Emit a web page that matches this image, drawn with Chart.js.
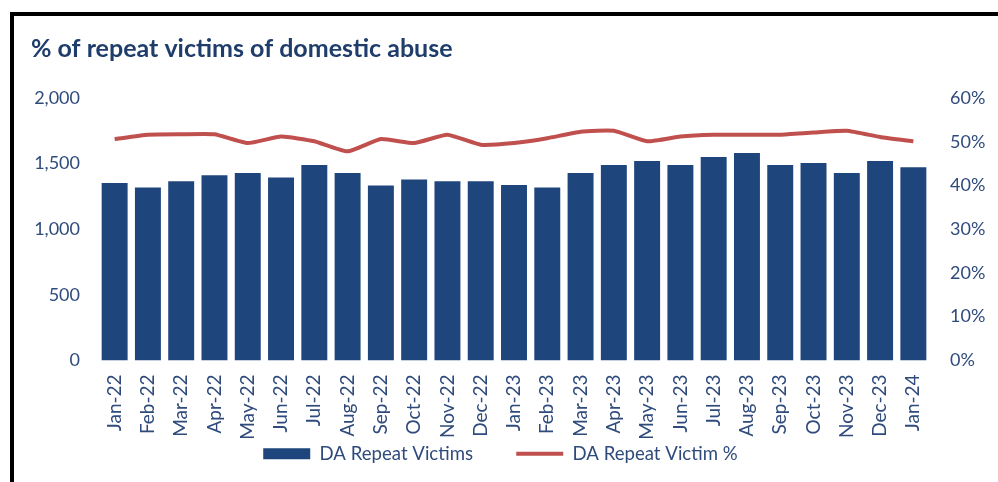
<!DOCTYPE html>
<html>
<head>
<meta charset="utf-8">
<script src="https://cdn.jsdelivr.net/npm/chart.js@4.4.1/dist/chart.umd.min.js"></script>
<style>
  html, body { margin: 0; padding: 0; background: #fff; }
  #marco {
    position: absolute; left: 10px; top: 12px; right: 0; bottom: 0;
    border-top: 4px solid #000; border-left: 4px solid #000;
  }
  #lienzo { position: absolute; left: 0; top: 0; }
</style>
</head>
<body>
<div id="marco"></div>
<canvas id="lienzo" width="998" height="482"></canvas>
<script>
// Datos
const meses = ['Jan-22', 'Feb-22', 'Mar-22', 'Apr-22', 'May-22', 'Jun-22', 'Jul-22', 'Aug-22',
  'Sep-22', 'Oct-22', 'Nov-22', 'Dec-22', 'Jan-23', 'Feb-23', 'Mar-23', 'Apr-23', 'May-23',
  'Jun-23', 'Jul-23', 'Aug-23', 'Sep-23', 'Oct-23', 'Nov-23', 'Dec-23', 'Jan-24'];

const victimasRepetidas = [1353, 1318, 1366, 1412, 1428, 1394, 1489, 1428, 1333, 1379, 1366, 1366,
  1336, 1318, 1428, 1489, 1519, 1489, 1550, 1580, 1489, 1504, 1428, 1519, 1473];

const porcentajeRepetidas = [0.506, 0.516, 0.517, 0.517, 0.497, 0.512, 0.501, 0.478, 0.506, 0.497,
  0.516, 0.493, 0.497, 0.508, 0.523, 0.525, 0.501, 0.512, 0.516, 0.516, 0.516, 0.521, 0.525,
  0.511, 0.501];

const ticksIzq = [0, 500, 1000, 1500, 2000];
const ticksDer = [0, 0.1, 0.2, 0.3, 0.4, 0.5, 0.6];

const azul = '#1F467C';
const rojo = '#C0504D';
const colorTexto = '#2F4B7C';
const fuente = 'Lato, "Open Sans", sans-serif';

// espacios al final del texto de la leyenda: separan los dos elementos
// y compensan el margen derecho para que la leyenda quede centrada
const colaTexto = ['\u2003\u2003\u2002', '\u2003\u2004'];

const ctx = document.getElementById('lienzo').getContext('2d');
window.grafico = new Chart(ctx, {
  data: {
    labels: meses,
    datasets: [
      {
        type: 'line',
        label: 'DA Repeat Victim %',
        data: porcentajeRepetidas,
        yAxisID: 'yDer',
        borderColor: rojo,
        backgroundColor: rojo,
        borderWidth: 4,
        pointRadius: 0,
        pointStyle: 'line',
        tension: 0.15,
        order: 0
      },
      {
        type: 'bar',
        label: 'DA Repeat Victims',
        data: victimasRepetidas,
        yAxisID: 'yIzq',
        backgroundColor: azul,
        borderWidth: 0,
        pointStyle: 'rect',
        categoryPercentage: 0.78,
        barPercentage: 1,
        order: 1
      }
    ]
  },
  options: {
    responsive: false,
    animation: false,
    layout: { padding: { left: 31, right: 8, top: 34, bottom: 9 } },
    plugins: {
      title: {
        display: true,
        text: '% of repeat victims of domestic abuse',
        align: 'start',
        color: '#1F3D6B',
        font: { family: fuente, size: 25, weight: 'bold', lineHeight: 1.2 },
        padding: { top: 0, bottom: 34 }
      },
      legend: {
        position: 'bottom',
        labels: {
          usePointStyle: true,
          pointStyleWidth: 47,
          boxHeight: 11,
          padding: 6,
          color: colorTexto,
          font: { family: fuente, size: 18.6 },
          generateLabels: chart => {
            const items = Chart.defaults.plugins.legend.labels.generateLabels(chart);
            // barras primero, luego la línea
            items.sort((a, b) => b.datasetIndex - a.datasetIndex);
            items.forEach((it, i) => { it.text = it.text + colaTexto[i]; });
            return items;
          }
        }
      },
      tooltip: { enabled: false }
    },
    scales: {
      x: {
        grid: { display: false, drawTicks: false },
        border: { display: false },
        afterFit: eje => { eje.height = 78; },
        ticks: {
          color: colorTexto,
          font: { family: fuente, size: 19 },
          minRotation: 90,
          maxRotation: 90,
          autoSkip: false,
          padding: 14
        }
      },
      yIzq: {
        position: 'left',
        min: 0,
        max: 2000,
        grid: { display: false, drawTicks: false },
        border: { display: false },
        afterFit: eje => { eje.width = 67; },
        afterBuildTicks: eje => { eje.ticks = ticksIzq.map(v => ({ value: v })); },
        ticks: {
          color: colorTexto,
          font: { family: fuente, size: 18 },
          padding: 18,
          callback: v => v.toLocaleString('en-GB')
        }
      },
      yDer: {
        position: 'right',
        min: 0,
        max: 0.6,
        grid: { display: false, drawTicks: false },
        border: { display: false },
        afterFit: eje => { eje.width = 60; },
        afterBuildTicks: eje => { eje.ticks = ticksDer.map(v => ({ value: v })); },
        ticks: {
          color: colorTexto,
          font: { family: fuente, size: 18 },
          padding: 20,
          callback: v => Math.round(v * 100) + '%'
        }
      }
    }
  }
});
</script>
</body>
</html>
